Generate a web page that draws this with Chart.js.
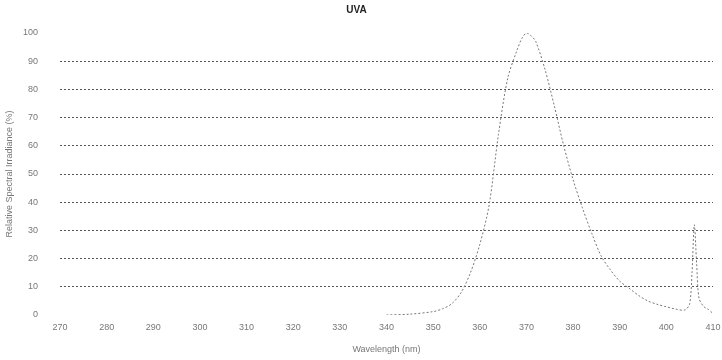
<!DOCTYPE html>
<html>
<head>
<meta charset="utf-8">
<script src="https://cdn.jsdelivr.net/npm/chart.js@4"></script>
<style>
  html, body { margin: 0; padding: 0; background: #fff; }
  #wrap { width: 722px; height: 360px; }
</style>
</head>
<body>
<div id="wrap"><canvas id="uvaChart" width="722" height="360"></canvas></div>
<script>
// UVA lamp spectrum
const wavelengths = [340, 345, 350, 352, 354, 356, 358, 360, 362, 364, 366, 368, 369, 370, 371, 372, 374, 376, 378, 380,
  382, 384, 386, 388, 390, 392, 394, 396, 398, 400, 402, 404, 405, 405.5, 406, 406.5, 407, 408, 409, 410];
const irradiance = [0, 0.3, 1.2, 2.2, 4, 8, 15, 25, 39, 64, 84, 94, 98, 100, 99, 97, 87, 74, 60, 48,
  38, 29, 21, 16, 12, 9.5, 7, 5, 3.8, 2.9, 2.1, 1.8, 4, 15, 32, 18, 6, 3, 2, 0.5];
const xTicks = [270, 280, 290, 300, 310, 320, 330, 340, 350, 360, 370, 380, 390, 400, 410];
const yTicks = [0, 10, 20, 30, 40, 50, 60, 70, 80, 90, 100];

const points = wavelengths.map((w, i) => ({ x: w, y: irradiance[i] }));

const ctx = document.getElementById('uvaChart').getContext('2d');
new Chart(ctx, {
  type: 'line',
  data: {
    datasets: [{
      label: 'UVA',
      data: points,
      borderColor: '#777',
      borderWidth: 1,
      borderDash: [2, 2],
      pointRadius: 0,
      tension: 0.3,
      fill: false
    }]
  },
  options: {
    responsive: false,
    animation: false,
    layout: { padding: { top: 0, right: 9, bottom: 0, left: 0 } },
    plugins: {
      legend: { display: false },
      tooltip: { enabled: false },
      title: {
        display: true,
        text: 'UVA',
        color: '#222',
        font: { family: 'Liberation Sans', size: 10, weight: 'bold' },
        padding: { top: 4, bottom: 17 }
      }
    },
    scales: {
      x: {
        type: 'linear',
        min: 270,
        max: 410,
        afterBuildTicks: s => { s.ticks = xTicks.map(v => ({ value: v })); },
        afterFit: s => { s.height = 45; s.paddingRight = 0; },
        grid: { display: false, drawTicks: false, tickLength: 0 },
        border: { display: false },
        ticks: {
          color: '#777',
          font: { family: 'Liberation Sans', size: 9 },
          padding: 7,
          maxRotation: 0
        },
        title: {
          display: true,
          text: 'Wavelength (nm)',
          color: '#777',
          font: { family: 'Liberation Sans', size: 9 },
          padding: { top: 4, bottom: 5 }
        }
      },
      y: {
        min: 0,
        max: 100,
        afterBuildTicks: s => { s.ticks = yTicks.map(v => ({ value: v })); },
        afterFit: s => { s.width = 60; },
        border: { display: false, dash: [2, 2] },
        grid: {
          color: ctx => (ctx.tick.value === 0 || ctx.tick.value === 100) ? 'rgba(0,0,0,0)' : '#555',
          lineWidth: 1,
          drawTicks: false
        },
        ticks: {
          color: '#777',
          font: { family: 'Liberation Sans', size: 9 },
          padding: 22
        },
        title: {
          display: true,
          text: 'Relative Spectral Irradiance (%)',
          color: '#777',
          font: { family: 'Liberation Sans', size: 9 },
          padding: { top: 4, bottom: 0 }
        }
      }
    }
  }
});
</script>
</body>
</html>
